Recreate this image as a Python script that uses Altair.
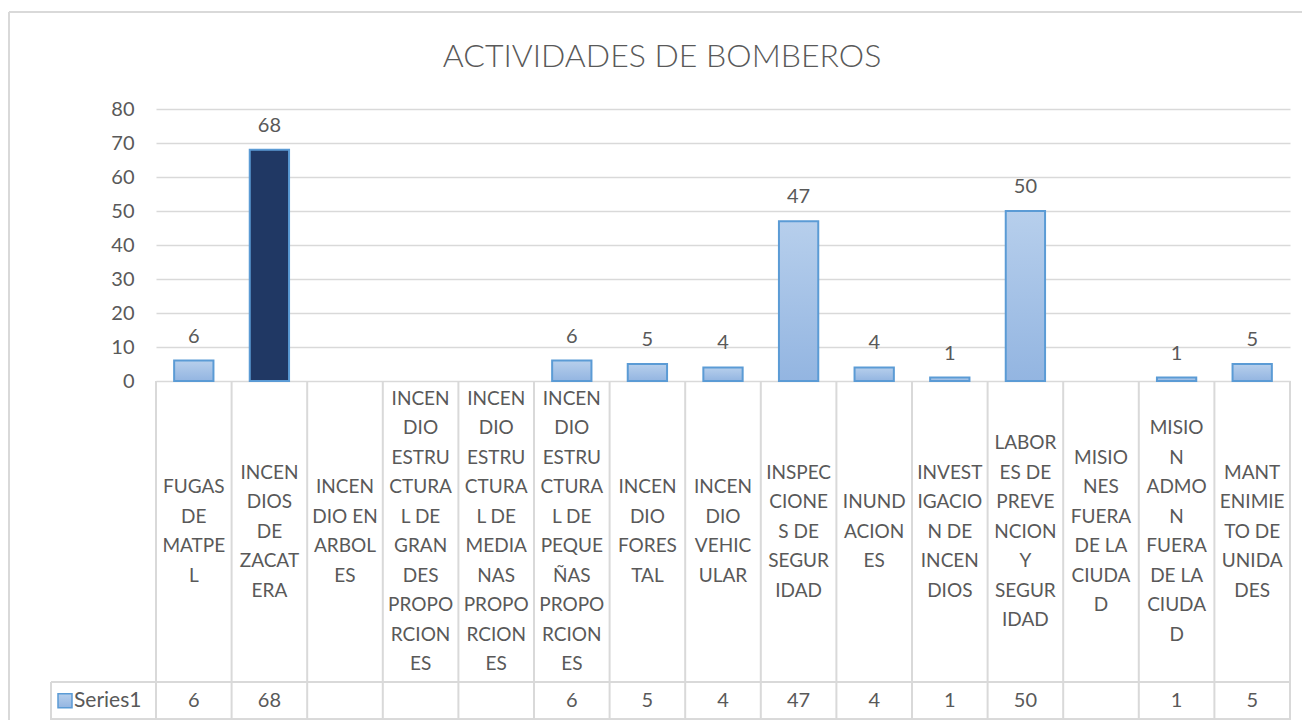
import altair as alt
import pandas as pd

title_text = "ACTIVIDADES DE BOMBEROS"
series_name = "Series1"

categories = [
    "FUGAS DE MATPEL",
    "INCENDIOS DE ZACATERA",
    "INCENDIO EN ARBOLES",
    "INCENDIO ESTRUCTURAL DE GRANDES PROPORCIONES",
    "INCENDIO ESTRUCTURAL DE MEDIANAS PROPORCIONES",
    "INCENDIO ESTRUCTURAL DE PEQUEÑAS PROPORCIONES",
    "INCENDIO FORESTAL",
    "INCENDIO VEHICULAR",
    "INSPECCIONES DE SEGURIDAD",
    "INUNDACIONES",
    "INVESTIGACION DE INCENDIOS",
    "LABORES DE PREVENCION Y SEGURIDAD",
    "MISIONES FUERA DE LA CIUDAD",
    "MISION ADMON FUERA DE LA CIUDAD",
    "MANTENIMIETO DE UNIDADES",
]

wrapped_labels = [
    "FUGAS\nDE\nMATPE\nL",
    "INCEN\nDIOS\nDE\nZACAT\nERA",
    "INCEN\nDIO EN\nARBOL\nES",
    "INCEN\nDIO\nESTRU\nCTURA\nL DE\nGRAN\nDES\nPROPO\nRCION\nES",
    "INCEN\nDIO\nESTRU\nCTURA\nL DE\nMEDIA\nNAS\nPROPO\nRCION\nES",
    "INCEN\nDIO\nESTRU\nCTURA\nL DE\nPEQUE\nÑAS\nPROPO\nRCION\nES",
    "INCEN\nDIO\nFORES\nTAL",
    "INCEN\nDIO\nVEHIC\nULAR",
    "INSPEC\nCIONE\nS DE\nSEGUR\nIDAD",
    "INUND\nACION\nES",
    "INVEST\nIGACIO\nN DE\nINCEN\nDIOS",
    "LABOR\nES DE\nPREVE\nNCION\nY\nSEGUR\nIDAD",
    "MISIO\nNES\nFUERA\nDE LA\nCIUDA\nD",
    "MISIO\nN\nADMO\nN\nFUERA\nDE LA\nCIUDA\nD",
    "MANT\nENIMIE\nTO DE\nUNIDA\nDES",
]

values = [6, 68, None, None, None, 6, 5, 4, 47, 4, 1, 50, None, 1, 5]

highlighted = "INCENDIOS DE ZACATERA"

y_ticks = [0, 10, 20, 30, 40, 50, 60, 70, 80]

df = pd.DataFrame({
    "cat": categories,
    "label": wrapped_labels,
    "value": values,
    "hl": [c == highlighted for c in categories],
})

TEXT = "#595959"
GRID = "#d9d9d9"
FONT = "Lato"

W, H = 1134, 611
PX = 3.4                     # pixels per unit
ymin = 80 - H / PX
LH = 29.5                    # line height of wrapped labels

xenc = alt.X("cat:N", sort=categories,
             scale=alt.Scale(paddingInner=0, paddingOuter=0), axis=None)
yscale = alt.Scale(domain=[ymin, 80], nice=False, zero=False)
yaxis = alt.Axis(values=y_ticks, grid=True, gridColor=GRID, gridWidth=1.5,
                 domain=False, ticks=False, labelPadding=22,
                 labelFont=FONT, labelFontSize=20, labelColor=TEXT, title=None)


def yenc(field):
    return alt.Y(field, scale=yscale, axis=yaxis, title=None)


gradient = {
    "gradient": "linear", "x1": 0, "y1": 0, "x2": 0, "y2": 1,
    "stops": [{"offset": 0, "color": "#b7cfec"}, {"offset": 1, "color": "#93b5e1"}],
}

base = alt.Chart(df)

bars = base.transform_filter("isValid(datum.value) && !datum.hl").mark_bar(
    width={"band": 0.52}, fill=gradient, stroke="#5b9bd5", strokeWidth=2
).encode(x=xenc, y=yenc("value:Q"), y2=alt.datum(0))

bars_hl = base.transform_filter("isValid(datum.value) && datum.hl").mark_bar(
    width={"band": 0.52}, fill="#203864", stroke="#5b9bd5", strokeWidth=2
).encode(x=xenc, y=yenc("value:Q"), y2=alt.datum(0))

labels = base.transform_filter("isValid(datum.value)").mark_text(
    baseline="middle", dy=-24, font=FONT, fontSize=20, color=TEXT
).encode(x=xenc, y=yenc("value:Q"), text="value:Q")

y0 = 272
row_top = 573
row_bot = 610.5
left_col = -105
cat_center = (y0 + row_top) / 2

vlines = base.mark_rule(color=GRID, strokeWidth=2).encode(
    x=alt.X("cat:N", sort=categories, bandPosition=0,
            scale=alt.Scale(paddingInner=0, paddingOuter=0), axis=None),
    y=alt.value(y0), y2=alt.value(row_bot),
)
right_line = base.mark_rule(color=GRID, strokeWidth=2).encode(
    x=alt.value(W), y=alt.value(y0), y2=alt.value(row_bot))
left_line = base.mark_rule(color=GRID, strokeWidth=2).encode(
    x=alt.value(left_col), y=alt.value(row_top), y2=alt.value(row_bot))
hline1 = base.mark_rule(color=GRID, strokeWidth=2).encode(
    x=alt.value(left_col), x2=alt.value(W), y=alt.value(row_top))
hline2 = base.mark_rule(color=GRID, strokeWidth=2).encode(
    x=alt.value(left_col), x2=alt.value(W), y=alt.value(row_bot))

# first line position so that each wrapped block is centred in its cell
cat_text = base.transform_calculate(
    nlines="length(split(datum.label, '\\n'))"
).transform_calculate(
    ypos="80 - (%f - (datum.nlines - 1) / 2 * %f) / %f" % (cat_center, LH, PX)
).mark_text(
    lineBreak="\n", baseline="middle", align="center", font=FONT, fontSize=19,
    color=TEXT, lineHeight=LH
).encode(x=xenc, y=yenc("ypos:Q"), text="label:N")

val_text = base.transform_filter("isValid(datum.value)").mark_text(
    baseline="middle", align="center", font=FONT, fontSize=20, color=TEXT
).encode(x=xenc, y=alt.value((row_top + row_bot) / 2), text="value:Q")

first = "datum.cat == '%s'" % categories[0]

key = base.transform_filter(first).mark_rect(
    fill=gradient, stroke="#5b9bd5", strokeWidth=1.5
).encode(x=alt.value(-98), x2=alt.value(-84),
         y=alt.value((row_top + row_bot) / 2 - 7), y2=alt.value((row_top + row_bot) / 2 + 7))

key_text = base.transform_filter(first).mark_text(
    align="left", baseline="middle", font=FONT, fontSize=21, color=TEXT
).encode(x=alt.value(-82), y=alt.value((row_top + row_bot) / 2), text=alt.value(series_name))

title = base.transform_filter(first).mark_text(
    align="center", baseline="middle", font=FONT, fontSize=32, fontWeight=300, color=TEXT
).encode(x=alt.value(506), y=alt.value(-52), text=alt.value(title_text))

border_top = base.mark_rule(color=GRID, strokeWidth=2).encode(
    x=alt.value(-147), x2=alt.value(W + 12), y=alt.value(-97))
border_left = base.mark_rule(color=GRID, strokeWidth=2).encode(
    x=alt.value(-147), y=alt.value(-97), y2=alt.value(H))

chart = alt.layer(
    bars, bars_hl, labels, cat_text, border_top, border_left, vlines, right_line,
    left_line, hline1, hline2, val_text, key, key_text, title
).properties(
    width=W, height=H,
    autosize=alt.AutoSizeParams(type="none"),
    padding={"left": 148, "top": 101, "right": 12, "bottom": 0},
    background="white",
).configure_view(stroke=None)

chart.save("out.html", embed_options={"renderer": "svg", "actions": False})
